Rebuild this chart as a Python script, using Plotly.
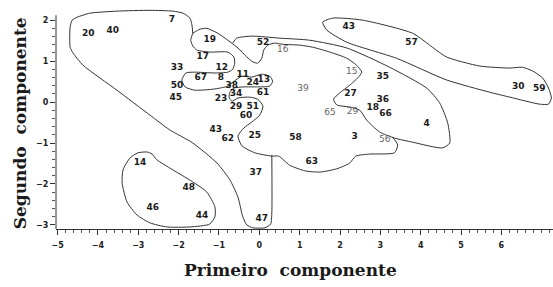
import plotly.graph_objects as go

# ---- point labels (first / second component) ----
labels_bold = ["20", "40", "7", "19", "52", "17", "33", "12", "67", "8", "11", "24", "13",
               "38", "34", "61", "50", "45", "23", "29", "51", "60", "43", "62", "25", "58",
               "3", "63", "35", "27", "36", "18", "66", "4", "43", "57", "30", "59",
               "14", "48", "46", "44", "37", "47"]
x_bold = [-4.24, -3.63, -2.17, -1.23, 0.09, -1.40, -2.04, -0.93, -1.45, -0.95, -0.41, -0.16, 0.11,
          -0.68, -0.58, 0.09, -2.04, -2.07, -0.95, -0.58, -0.16, -0.33, -1.08, -0.78, -0.11, 0.90,
          2.36, 1.30, 3.06, 2.26, 3.06, 2.81, 3.13, 4.15, 2.22, 3.77, 6.42, 6.94,
          -2.96, -1.75, -2.64, -1.42, -0.09, 0.06]
y_bold = [1.68, 1.73, 2.00, 1.51, 1.44, 1.10, 0.83, 0.83, 0.59, 0.59, 0.66, 0.46, 0.54,
          0.41, 0.20, 0.22, 0.41, 0.10, 0.07, -0.11, -0.11, -0.33, -0.68, -0.90, -0.83, -0.88,
          -0.85, -1.46, 0.61, 0.20, 0.05, -0.15, -0.29, -0.54, 1.85, 1.46, 0.37, 0.32,
          -1.49, -2.10, -2.59, -2.78, -1.73, -2.85]

labels_light = ["16", "39", "15", "65", "29", "56"]
x_light = [0.58, 1.08, 2.29, 1.75, 2.31, 3.11]
y_light = [1.27, 0.32, 0.73, -0.27, -0.24, -0.93]

# ---- hand-drawn group outlines (data units) ----
outline_a_x = [-1.65, -1.67, -1.72, -1.89, -2.14, -2.71, -3.53, -4.20, -4.52, -4.64, -4.69, -4.69,
               -4.62, -4.37, -3.53, -2.71, -2.22, -1.65, -1.05, -0.73, -0.53, -0.41, -0.31, -0.16,
               0.14, 0.28, 0.31, 0.31]
outline_a_y = [1.68, 1.88, 2.05, 2.17, 2.22, 2.24, 2.22, 2.17, 2.07, 2.00, 1.83, 1.34,
               1.20, 0.90, 0.29, -0.32, -0.68, -1.00, -1.49, -1.90, -2.32, -2.80, -3.00, -3.07,
               -3.07, -2.98, -2.71, -1.29]

outline_b_x = [-1.65, -1.47, -1.30, -1.03, -0.78, -0.53, -0.31, -0.16, -0.04, 0.06, 0.11, 0.21,
               0.38, 0.58, 1.00, 1.32, 1.75, 2.17, 2.41, 2.54, 2.44, 2.24, 1.99, 1.84, 1.92,
               2.24, 2.49, 2.66, 2.98, 3.35, 3.80, 4.54, 4.72, 4.67, 4.47, 4.15, 3.23, 2.17,
               1.25, 0.51, -0.19, -0.56, -0.66]
outline_b_y = [1.68, 1.78, 1.80, 1.68, 1.51, 1.32, 1.10, 0.98, 0.95, 1.07, 1.27, 1.39,
               1.44, 1.41, 1.39, 1.34, 1.22, 1.07, 0.90, 0.73, 0.59, 0.41, 0.22, 0.07, -0.07,
               -0.12, -0.20, -0.44, -0.73, -0.88, -0.98, -1.12, -1.00, -0.51, -0.02, 0.34, 0.85, 1.32,
               1.51, 1.56, 1.61, 1.56, 1.44]

outline_c_x = [-1.65, -1.70, -1.65, -1.55, -1.23, -0.78, -0.63, -0.61, -0.66, -0.78, -1.10, -1.60,
               -1.82, -1.92, -1.84, -1.60, -1.10, -0.78, -0.58, -0.43, -0.19, 0.06, 0.26, 0.33,
               0.26, -0.04, -0.38, -0.63, -0.73, -0.75, -0.68, -0.53, -0.24, -0.04, 0.09, 0.01,
               -0.19, -0.38, -0.53, -0.43, -0.11, 0.31, 0.48, 0.75, 1.13, 1.50, 1.92, 2.24,
               2.39, 2.74, 3.35, 3.43, 3.30]
outline_c_y = [1.68, 1.51, 1.37, 1.27, 1.22, 1.22, 1.10, 0.95, 0.80, 0.73, 0.71, 0.73,
               0.71, 0.54, 0.37, 0.29, 0.32, 0.39, 0.54, 0.63, 0.61, 0.68, 0.63, 0.51,
               0.39, 0.37, 0.37, 0.34, 0.24, 0.12, 0.02, 0.10, 0.12, 0.07, -0.10, -0.32,
               -0.49, -0.63, -0.83, -1.07, -1.24, -1.32, -1.32, -1.54, -1.68, -1.71, -1.63, -1.49,
               -1.32, -1.27, -1.24, -1.05, -0.85]

outline_d_x = [1.57, 1.82, 2.56, 3.80, 4.29, 4.64, 5.46, 6.21, 6.52, 6.77, 7.02, 7.17, 7.24,
               7.17, 6.94, 6.21, 5.71, 4.64, 3.40, 2.17, 1.67, 1.57]
outline_d_y = [1.95, 2.05, 2.00, 1.68, 1.34, 1.10, 0.88, 0.83, 0.85, 0.76, 0.59, 0.34, 0.10,
               -0.05, -0.05, 0.12, 0.24, 0.54, 1.07, 1.46, 1.76, 1.95]

outline_e_x = [-2.78, -3.01, -3.21, -3.38, -3.40, -3.28, -3.03, -2.71, -2.29, -1.72, -1.23, -1.10,
               -1.10, -1.30, -1.65, -2.22, -2.54, -2.66, -2.78]
outline_e_y = [-1.22, -1.24, -1.37, -1.66, -1.98, -2.44, -2.76, -2.95, -3.05, -3.05, -2.98, -2.80,
               -2.56, -2.20, -1.95, -1.61, -1.41, -1.27, -1.22]

x_ticks = [-5, -4, -3, -2, -1, 0, 1, 2, 3, 4, 5, 6]
y_ticks = [-3, -2, -1, 0, 1, 2]
y_axis_top = 2.12

fig = go.Figure()
line_style = dict(color="#333333", width=1, shape="spline", smoothing=0.6)
for ox, oy in [(outline_a_x, outline_a_y), (outline_b_x, outline_b_y), (outline_c_x, outline_c_y),
               (outline_d_x, outline_d_y), (outline_e_x, outline_e_y)]:
    fig.add_trace(go.Scatter(x=ox, y=oy, mode="lines", line=line_style,
                             hoverinfo="skip", showlegend=False))

fig.add_trace(go.Scatter(x=x_bold, y=y_bold, mode="text", text=labels_bold, cliponaxis=False,
                         textfont=dict(family="DejaVu Sans", size=9, color="#1a1a1a", weight="bold"),
                         hoverinfo="skip", showlegend=False))
fig.add_trace(go.Scatter(x=x_light, y=y_light, mode="text", text=labels_light, cliponaxis=False,
                         textfont=dict(family="DejaVu Sans", size=9, color="#666666"),
                         hoverinfo="skip", showlegend=False))

axis_common = dict(showgrid=False, zeroline=False, linecolor="#333333", linewidth=1,
                   ticks="outside", ticklen=5, tickcolor="#333333", tickwidth=1,
                   tickfont=dict(family="DejaVu Sans", size=8, color="#222222", weight="bold"))
y_minor = [round(-3 + 0.2 * i, 2) for i in range(26)]
fig.update_xaxes(range=[-5.04, 7.28], tickvals=x_ticks, showline=True, ticklabelstandoff=3,
                 ticktext=[str(v).replace("-", "\u2212") for v in x_ticks],
                 minor=dict(ticks="outside", dtick=0.2, ticklen=3, tickcolor="#555555"), **axis_common)
fig.update_yaxes(range=[-3.10, 2.37], tickvals=y_ticks, showline=False,
                 ticktext=[str(v).replace("-", "\u2212") for v in y_ticks],
                 minor=dict(ticks="outside", tickvals=y_minor, ticklen=3, tickcolor="#555555"), **axis_common)

fig.add_shape(type="line", xref="paper", yref="y", x0=0, x1=0, y0=-3.10, y1=y_axis_top,
              line=dict(color="#333333", width=1))

fig.update_layout(
    width=553, height=287,
    margin=dict(l=56, r=0, t=5, b=58),
    paper_bgcolor="white", plot_bgcolor="white",
    hovermode=False,
    annotations=[
        dict(text="Primeiro  componente", xref="paper", yref="paper", x=0.471, y=-0.185,
             xanchor="center", yanchor="middle", showarrow=False,
             font=dict(family="DejaVu Serif", size=17, color="#1a1a1a", weight="bold")),
        dict(text="Segundo  componente", xref="paper", yref="paper", x=-0.072, y=0.473,
             xanchor="center", yanchor="middle", showarrow=False, textangle=-90,
             font=dict(family="DejaVu Serif", size=17, color="#1a1a1a", weight="bold")),
    ],
)

fig.write_html("out.html", config={"displayModeBar": False},
               post_script="document.body.style.margin='0';document.body.style.overflow='hidden';")
